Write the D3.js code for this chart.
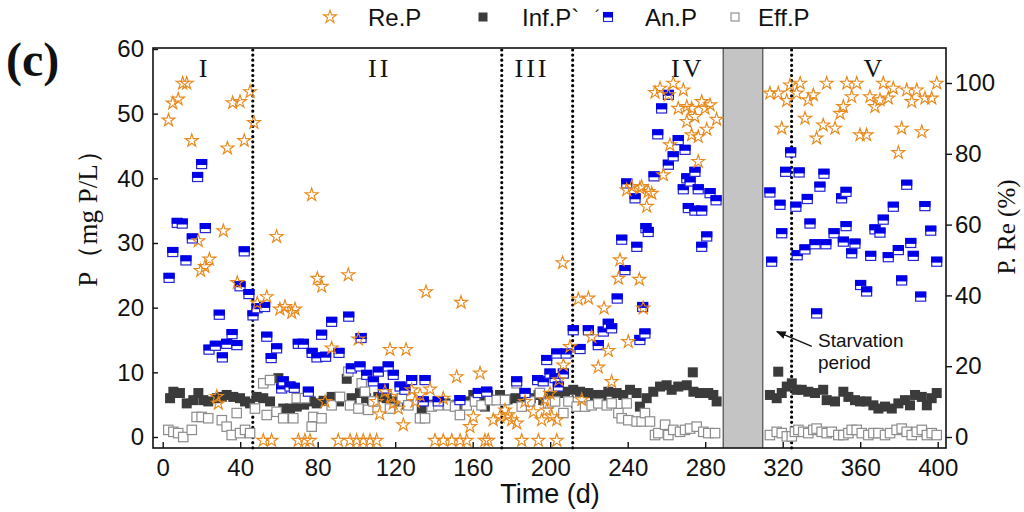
<!DOCTYPE html>
<html lang="en">
<head>
<meta charset="UTF-8">
<title>P removal over time</title>
<script src="https://d3js.org/d3.v7.min.js"></script>
<style>
  body { margin: 0; background: #fff; }
  text { font-family: "Liberation Sans", Arial, sans-serif; fill: #111; }
  .serif { font-family: "Liberation Serif", "Times New Roman", serif; }
</style>
</head>
<body>
<div id="chart"></div>
<script>
// [day, value] pairs
// Re.P on the right axis (%)
const reP = [
  [3, 89.5], [5.2, 94.3], [8, 95.4], [10.3, 99.9], [12.4, 99.9], [15, 83.7], [18.4, 55.4], [19.6, 47],
  [21.8, 48.1], [24.1, 50.2], [27.9, 11.4], [28.7, 9.5], [31.3, 58.2], [33.4, 81.6], [36.1, 94.4],
  [38.5, 43.6], [39.9, 94.7], [42.1, 83.7], [45.1, 97.5], [47.1, 88.8], [48.8, 37.8], [53.7, 39.6],
  [58.8, 56.6], [60.5, 36.1], [63.1, 36.8], [66.6, 35.1], [68.3, 36.1], [76.9, 68.4], [79.8, 44.8],
  [82.1, 42.5], [83.8, 10], [87.2, 25.1], [95.8, 45.8], [101, 27.6], [117.3, 24.7], [125.6, 24.7],
  [110.4, 10], [112, 6.5], [114.7, 12.8], [117.7, 11.4], [119, 9.5], [121.6, 8.1], [124.2, 3.4],
  [128.5, 13.3], [130.2, 10], [132.8, 11.9], [138, 13.5], [135.9, 41], [144.8, 10.9], [151.7, 17],
  [154, 38], [163.8, 18], [160.3, 5.7], [158.6, 2.9], [170.6, 4.8], [174.1, 5.7], [176.7, 7.6],
  [178.4, 6.2], [180.1, 4.8], [182.7, 3.9], [187, 10], [191.3, 7.1], [195.6, 4.8], [197.3, 10.5],
  [198.2, 7.6], [199.9, 12.3], [200.8, 5.7], [203.4, 4.8],
  [51.9, -1], [56.2, -1], [70, -1], [73.4, -1], [76, -1], [90.6, -1], [96.7, -1], [100.1, -1],
  [103.5, -1], [107, -1], [110.4, -1], [140.5, -1], [144.8, -1], [149.2, -1], [153.5, -1],
  [156.9, -1], [166.3, -1], [168, -1], [185.3, -1], [193.9, -1], [203.4, -1],
  [206.4, 49.2], [214.5, 38.9], [219.7, 39.2], [227.8, 36.4], [221.4, 28.3], [230, 24.4],
  [224.8, 19.7], [231.7, 15.6], [216.3, 10.5], [206.8, 20.3], [204.5, 16.1], [210.2, 25.5],
  [236, 50], [235.2, 44.8], [239.5, 69.8], [242.1, 70.7], [246.3, 70.3], [250.6, 69.3], [249.8, 65.1],
  [246, 44.5], [248, 36.4], [240.3, 26.9], [247.2, 70.7], [252.4, 68.8],
  [254.1, 97.3], [256.7, 98.5], [261, 96.6], [263.5, 99.9], [268.7, 98], [266.1, 92.8], [270.5, 93.3],
  [273, 92.8], [278.2, 94.7], [282.5, 93.8], [279.9, 92.8], [285.9, 89.7], [270.5, 89.1], [274.7, 90.5],
  [280.8, 86.9], [273, 85.3], [276.4, 84.8], [261.8, 82.5], [258.4, 74], [276.4, 77.8],
  [313.4, 97.1], [317.7, 97.1], [319.5, 87.2], [322.1, 95], [323.8, 99.4], [329, 99.9], [327.2, 97.1],
  [331.5, 90], [333.2, 95.2], [335.8, 96.6], [337.5, 84.4], [340.9, 88.1], [342.7, 99.9], [347, 87.2],
  [349.6, 91.4], [351.3, 93.3], [353.1, 99.9], [355.6, 96.1], [358.2, 99.9], [359.9, 85.3], [363.3, 85.3],
  [365, 96.1], [367.6, 93.3], [370.2, 95.2], [371.9, 99.9], [374.5, 95.7], [377.1, 98.5], [379.7, 80.3],
  [381.4, 87.2], [384, 98], [386.6, 94.7], [389.2, 98], [391.8, 86.2], [393.4, 95.7], [396.9, 95.7],
  [399.5, 99.9]
];

// Inf.P (mg P/L)
const infP = [
  [3.8, 6.0], [5.5, 7.0], [8.9, 6.8], [12.4, 5.2], [15.8, 5.7], [18.4, 6.8], [21, 5.7], [23.5, 5.5],
  [27.9, 6.0], [30.5, 6.2], [33, 6.5], [36.4, 6.2], [39.9, 6.0], [42.5, 5.5], [45.1, 5.2],
  [48.5, 6.2], [51.9, 6.0], [55.4, 5.5], [59.7, 9.1], [62.2, 4.4], [65.7, 4.4], [69.2, 4.7], [73, 5.0],
  [76.5, 5.5], [79.5, 5.2], [83, 5.6], [87.2, 6.2], [91, 5.5], [95, 9.0], [97.5, 6.0], [101.8, 6.8],
  [105, 6.0], [108, 5.5], [111.3, 6.2], [115.6, 6.0], [120, 5.5], [126, 5.0], [133.7, 4.4], [140, 5.0],
  [146, 5.2], [152, 5.0], [156, 5.5], [160.3, 6.5], [164, 5.5], [166.3, 4.7], [168, 6.5], [174.1, 6.5],
  [178, 5.8], [182, 6.0], [186, 5.5], [190, 6.0], [194, 6.5], [196.4, 5.7], [200, 6.3], [204, 6.8],
  [207.6, 7.0], [211.9, 7.3], [215.4, 7.0], [219.7, 6.8], [223.1, 6.5], [226.6, 6.5], [230, 7.0],
  [234.3, 6.8], [237.7, 6.5], [241.2, 7.3], [244.6, 6.8], [246.3, 4.7], [249.8, 6.0], [253.2, 7.0],
  [256.7, 7.8], [260.1, 8.0], [262.7, 7.3], [266.1, 7.8], [270.5, 8.0], [273.6, 10.0], [273.9, 7.0],
  [277.3, 6.8], [281.6, 6.8], [284.2, 6.5], [285.9, 5.5],
  [317.7, 10.1], [313.4, 6.5], [316.9, 6.0], [319.5, 6.8], [322.1, 7.8], [324.7, 8.3], [327.2, 7.3],
  [329.8, 7.3], [333.2, 7.0], [336.7, 6.8], [340.9, 7.3], [342.7, 5.7], [347, 5.5], [351.3, 7.0],
  [353.9, 6.2], [357.3, 5.7], [359.9, 5.5], [363.3, 5.5], [366.8, 4.9], [369.4, 4.4], [372.8, 4.7],
  [376.3, 4.4], [379.7, 5.2], [383.1, 5.7], [385.7, 4.9], [388.3, 6.5], [391.8, 6.2], [394.4, 4.9],
  [396.9, 6.0], [399.5, 6.8]
];

// An.P (mg P/L)
const anP = [
  [3.3, 24.6], [5.2, 28.6], [7.5, 33.1], [10.1, 33.0], [12, 27.3], [15.3, 30.7], [18, 40.2], [20.1, 42.2],
  [22, 32.3], [23.9, 13.5], [27.2, 14.1], [29.2, 18.9], [30.8, 12.3], [33, 14.4], [35.8, 15.9], [38.3, 14.2],
  [39.9, 23.3], [42.1, 28.7], [44.5, 22.1], [46.6, 18.8],
  [48.7, 19.9], [52.6, 20.1], [53.7, 15.5], [56, 12.2], [58.8, 13.7], [61.4, 7.5], [62.2, 8.6], [65.7, 7.8],
  [67.9, 7.6], [70, 14.4], [72.6, 14.4], [75.2, 7.0], [77.1, 13.0], [79.6, 12.3], [82, 15.8], [84.1, 12.4],
  [87.2, 17.8], [91, 13.0], [96, 18.6], [97.4, 10.6], [101.8, 10.9], [102.4, 15.3], [105.3, 9.6],
  [108.7, 8.6], [111.3, 10.1], [113.9, 7.5], [116.4, 10.9], [119, 9.6], [122.5, 7.8], [125, 7.3],
  [128.5, 8.8], [134.5, 5.5], [135.4, 8.8], [142.2, 5.5], [153.4, 5.7], [162.9, 6.8], [167.2, 7.0],
  [182.7, 8.6], [187, 6.8], [193.5, 8.8], [196.4, 8.6], [198.2, 11.9], [199.9, 9.8], [202.5, 9.1],
  [203.4, 12.9], [204.2, 7.8], [206.8, 9.8], [208.2, 12.9],
  [211.9, 16.5], [215.4, 13.6], [219.7, 16.5], [224.8, 14.2], [227.4, 16.3], [230, 17.5], [231.7, 16.8],
  [234.6, 21.4], [236.9, 30.5], [238.6, 25.8], [239.5, 39.2], [243.8, 36.9], [244.7, 29.4], [246.3, 15],
  [247.7, 20.1], [248.9, 16.0], [249.4, 32.3], [250.6, 31.7], [253.6, 40.3], [255.5, 46.8], [257.5, 50.8],
  [261, 52.9], [261, 42.1], [263.5, 43.4], [266.1, 45.9], [268.7, 38.3], [269.6, 44.4], [270.5, 40],
  [271.3, 35.4], [272.2, 39.5], [274.7, 41.0], [274.7, 35], [276.4, 38.3], [278.2, 35], [278.2, 29.4],
  [280.8, 31], [282.5, 37.7], [285.6, 36.6],
  [313.4, 37.8], [314.3, 27.1], [318.6, 35.9], [319.5, 31.5], [321.5, 41.0], [324.1, 44.0], [326.8, 35.6],
  [327.5, 28.1], [328.5, 40.9], [331.5, 29.0], [332.7, 36.8], [334.1, 33.0], [336.7, 29.8], [337.5, 19.1],
  [339.2, 38.7], [341.3, 40.7], [342.3, 29.8], [346.5, 31.5], [350.4, 36.9], [351.3, 30.2], [352.7, 37.9],
  [352.7, 32.6], [355.6, 28.4], [357.3, 29.9], [360.2, 23.5], [363.3, 22.5], [365.4, 28], [367.6, 32.1],
  [370.2, 31.6], [371.9, 33.6], [374.5, 27.8], [377.1, 35.6], [379.7, 28.9], [381.4, 24.2], [384, 39],
  [386.1, 30], [387.4, 28], [391.2, 21.7], [393.4, 35.7], [396.4, 31.9], [399.5, 27.1]
];

// Eff.P (mg P/L)
const effP = [
  [2.9, 1.1], [5.5, 0.8], [8, 0.6], [10.6, 0.0], [15, 1.1], [17.5, 3.1], [20.1, 3.1], [23.5, 2.9],
  [30.5, 2.6], [33, 1.6], [35.6, 0.3], [38.2, 3.7], [39.9, 0.6], [42.5, 1.1], [45.1, 0.6],
  [47.6, 4.4], [51.9, 8.3], [55.4, 8.8], [53.7, 3.4], [58.8, 3.9], [62.2, 2.9], [67.4, 2.9], [69.2, 6.0],
  [73.4, 6.0], [76.9, 1.6], [77.7, 3.1], [82, 2.9], [87.2, 4.9], [91.5, 6.2], [95.8, 10.1], [96.7, 4.9],
  [101, 4.4], [102.7, 8.3], [104.4, 7.0], [106.1, 4.2], [108.7, 5.5], [117.3, 4.4], [123.4, 6.0],
  [126.8, 4.9], [132.8, 2.9], [135.4, 2.9], [138.8, 4.7], [142.2, 4.9], [147.4, 4.9], [150.9, 4.7],
  [153.4, 3.4], [156.9, 4.9], [161.2, 5.5], [164.6, 4.9], [168.9, 5.7], [172.4, 5.7],
  [176.7, 5.7], [182.7, 8.3], [185.3, 4.7], [189.6, 5.5], [194.7, 6.8], [199, 5.2], [202.5, 5.5],
  [206.8, 3.7], [209.4, 5.5],
  [213.7, 4.7], [218, 4.7], [221.4, 4.9], [224.8, 5.2], [229.2, 4.9], [231.7, 5.2], [235.2, 3.7],
  [236.9, 2.9], [239.5, 5.2], [240.3, 2.6], [244.6, 2.4], [247.2, 2.4], [248.9, 3.7], [251.5, 2.4],
  [254.1, 0.3], [255.8, 0.6], [259.3, 1.9], [261, 0.3], [263.5, 1.1], [267, 0.8], [269.6, 1.1],
  [272.2, 1.3], [275.6, 1.6], [279, 0.8], [281.6, 0.6], [285.1, 0.6],
  [313.4, 0.3], [316.9, 0.8], [319.5, 0.6], [322.1, 0.1], [324.7, 0.1], [326.3, 0.8], [328.1, 1.1],
  [330.6, 0.8], [333.2, 0.6], [335.8, 1.1], [337.5, 1.3], [340.1, 0.8], [342.7, 0.6], [345.3, 0.8],
  [348.7, 0.3], [351.3, 0.3], [353.9, 0.6], [355.6, 1.1], [358.2, 1.1], [360.8, 0.6], [364.2, 0.3],
  [366.8, 0.6], [369.4, 0.6], [372.8, 0.3], [375.4, 0.6], [378.8, 1.1], [381.4, 1.3], [384, 0.8],
  [386.6, 0.3], [389.2, 0.8], [391.8, 1.1], [394.4, 0.3], [396.9, 0.6], [399.5, 0.3]
];

const phaseBreaks = [46.5, 175, 211.6, 324.6];
const phaseNames = ["I", "II", "III", "IV", "V"];
const phaseCenters = [20.8, 112, 190.6, 271, 366.6];
const starvation = [289.3, 309.7];
const xTicks = d3.range(0, 401, 40);
const yLeftTicks = d3.range(0, 61, 10);
const yRightTicks = d3.range(0, 101, 20);

const W = 1024, H = 512;
const fr = { left: 153, right: 946, top: 48, bottom: 448 };

const svg = d3.select("#chart").append("svg")
  .attr("width", W).attr("height", H);

const x = d3.scaleLinear().domain([0, 400]).range([162.7, 937.7]);
const yL = d3.scaleLinear().domain([0, 60]).range([437, 49]);
const yR = d3.scaleLinear().domain([0, 100]).range([437, 83]);

// starvation band
svg.append("rect")
  .attr("x", x(starvation[0])).attr("y", fr.top)
  .attr("width", x(starvation[1]) - x(starvation[0]))
  .attr("height", fr.bottom - fr.top)
  .attr("fill", "#c4c4c4");
svg.selectAll(".band-edge").data(starvation).enter().append("line")
  .attr("x1", d => x(d)).attr("x2", d => x(d))
  .attr("y1", fr.top).attr("y2", fr.bottom)
  .attr("stroke", "#555").attr("stroke-width", 1.3);

// phase separators
svg.selectAll(".phase").data(phaseBreaks).enter().append("line")
  .attr("x1", d => x(d)).attr("x2", d => x(d))
  .attr("y1", fr.top + 2).attr("y2", fr.bottom)
  .attr("stroke", "#000").attr("stroke-width", 3.2)
  .attr("stroke-linecap", "round").attr("stroke-dasharray", "0 5.1");

svg.selectAll(".phase-label").data(phaseNames).enter().append("text")
  .attr("class", "serif")
  .attr("x", (d, i) => x(phaseCenters[i])).attr("y", 77)
  .attr("text-anchor", "middle")
  .attr("font-size", 26)
  .attr("letter-spacing", d => d.length > 1 ? 3 : 0)
  .text(d => d);

// markers
const star = d3.symbol().type(d3.symbolStar).size(52);

svg.append("g").selectAll("rect").data(infP).enter().append("rect")
  .attr("x", d => x(d[0]) - 5).attr("y", d => yL(d[1]) - 5)
  .attr("width", 10).attr("height", 10)
  .attr("fill", "#3b3b3b");

svg.append("g").selectAll("rect").data(effP).enter().append("rect")
  .attr("x", d => x(d[0]) - 4.7).attr("y", d => yL(d[1]) - 4.7)
  .attr("width", 9.4).attr("height", 9.4)
  .attr("fill", "#fff").attr("stroke", "#8c8c8c").attr("stroke-width", 1.2);

const an = svg.append("g").selectAll("g").data(anP).enter().append("g")
  .attr("transform", d => `translate(${x(d[0])},${yL(d[1])})`);
an.append("rect")
  .attr("x", -5).attr("y", -4.5).attr("width", 10).attr("height", 9)
  .attr("fill", "#fff").attr("stroke", "#2323d8").attr("stroke-width", 1.2);
an.append("rect")
  .attr("x", -5.6).attr("y", -5.1).attr("width", 11.2).attr("height", 6)
  .attr("fill", "#0000e6");

svg.append("g").selectAll("path").data(reP).enter().append("path")
  .attr("d", star)
  .attr("transform", d => `translate(${x(d[0])},${yR(d[1])})`)
  .attr("fill", "none").attr("stroke", "#e8891c").attr("stroke-width", 1.15);

// axes
const axL = svg.append("g")
  .attr("transform", `translate(${fr.left},0)`)
  .call(d3.axisLeft(yL).tickValues(yLeftTicks).tickSizeInner(-5).tickSizeOuter(0).tickPadding(9));
const axB = svg.append("g")
  .attr("transform", `translate(0,${fr.bottom})`)
  .call(d3.axisBottom(x).tickValues(xTicks).tickSizeInner(-6).tickSizeOuter(0).tickPadding(11));
const axR = svg.append("g")
  .attr("transform", `translate(${fr.right},0)`)
  .call(d3.axisRight(yR).tickValues(yRightTicks).tickSizeInner(6).tickSizeOuter(0).tickPadding(3));
[axL, axB, axR].forEach(g => {
  g.select(".domain").remove();
  g.selectAll(".tick line").attr("stroke", "#111").attr("stroke-width", 1.4);
  g.selectAll(".tick text")
    .attr("font-family", "'Liberation Sans', Arial, sans-serif")
    .attr("font-size", 24).attr("fill", "#111");
});

svg.append("rect")
  .attr("x", fr.left).attr("y", fr.top)
  .attr("width", fr.right - fr.left).attr("height", fr.bottom - fr.top)
  .attr("fill", "none").attr("stroke", "#111").attr("stroke-width", 1.6);

// axis titles
svg.append("text")
  .attr("x", 550).attr("y", 503).attr("text-anchor", "middle")
  .attr("font-size", 27).text("Time (d)");
svg.append("text").attr("class", "serif")
  .attr("transform", "translate(97,212) rotate(-90)")
  .attr("text-anchor", "middle").attr("font-size", 27)
  .text("P（mg P/L）");
svg.append("text").attr("class", "serif")
  .attr("transform", "translate(1015,227) rotate(-90)")
  .attr("text-anchor", "middle").attr("font-size", 25)
  .text("P. Re (%)");
svg.append("text").attr("class", "serif")
  .attr("x", 6).attr("y", 76)
  .attr("font-size", 48).attr("font-weight", "bold")
  .text("(c)");

// starvation note
svg.append("defs").append("marker")
  .attr("id", "arrow").attr("viewBox", "0 0 10 10")
  .attr("refX", 9).attr("refY", 5)
  .attr("markerWidth", 7).attr("markerHeight", 7)
  .attr("orient", "auto")
  .append("path").attr("d", "M0,1 L10,5 L0,9 Z").attr("fill", "#111");
svg.append("line")
  .attr("x1", x(335)).attr("y1", yL(14))
  .attr("x2", x(317)).attr("y2", yL(16.3))
  .attr("stroke", "#111").attr("stroke-width", 1.4)
  .attr("marker-end", "url(#arrow)");
svg.append("text").attr("x", x(338.2)).attr("y", 347)
  .attr("font-size", 19).text("Starvation");
svg.append("text").attr("x", x(338.2)).attr("y", 369)
  .attr("font-size", 19).text("period");

// legend
const legend = [
  { name: "Re.P", kind: "re", mx: 330, tx: 368 },
  { name: "Inf.P`", kind: "inf", mx: 483, tx: 522 },
  { name: "An.P", kind: "an", mx: 608, tx: 645 },
  { name: "Eff.P", kind: "eff", mx: 735, tx: 758 }
];
const lg = svg.append("g").selectAll("g").data(legend).enter().append("g");
lg.append("text").attr("x", d => d.tx).attr("y", 26).attr("font-size", 24).text(d => d.name);
lg.filter(d => d.kind === "re").append("path").attr("d", star)
  .attr("transform", d => `translate(${d.mx},17)`)
  .attr("fill", "none").attr("stroke", "#e8891c").attr("stroke-width", 1.1);
lg.filter(d => d.kind === "inf").append("rect")
  .attr("x", d => d.mx - 4.5).attr("y", 12.5).attr("width", 9).attr("height", 9).attr("fill", "#3b3b3b");
lg.filter(d => d.kind === "eff").append("rect")
  .attr("x", d => d.mx - 4).attr("y", 13).attr("width", 8).attr("height", 8)
  .attr("fill", "#fff").attr("stroke", "#888").attr("stroke-width", 1.1);
const la = lg.filter(d => d.kind === "an");
la.append("rect").attr("x", d => d.mx - 4.5).attr("y", 12.5).attr("width", 9).attr("height", 9)
  .attr("fill", "#fff").attr("stroke", "#2323d8").attr("stroke-width", 1.1);
la.append("rect").attr("x", d => d.mx - 5).attr("y", 12).attr("width", 10).attr("height", 5.5)
  .attr("fill", "#0000e6");
la.append("text").attr("x", d => d.mx - 13).attr("y", 22).attr("font-size", 16).text("´");
</script>
</body>
</html>
